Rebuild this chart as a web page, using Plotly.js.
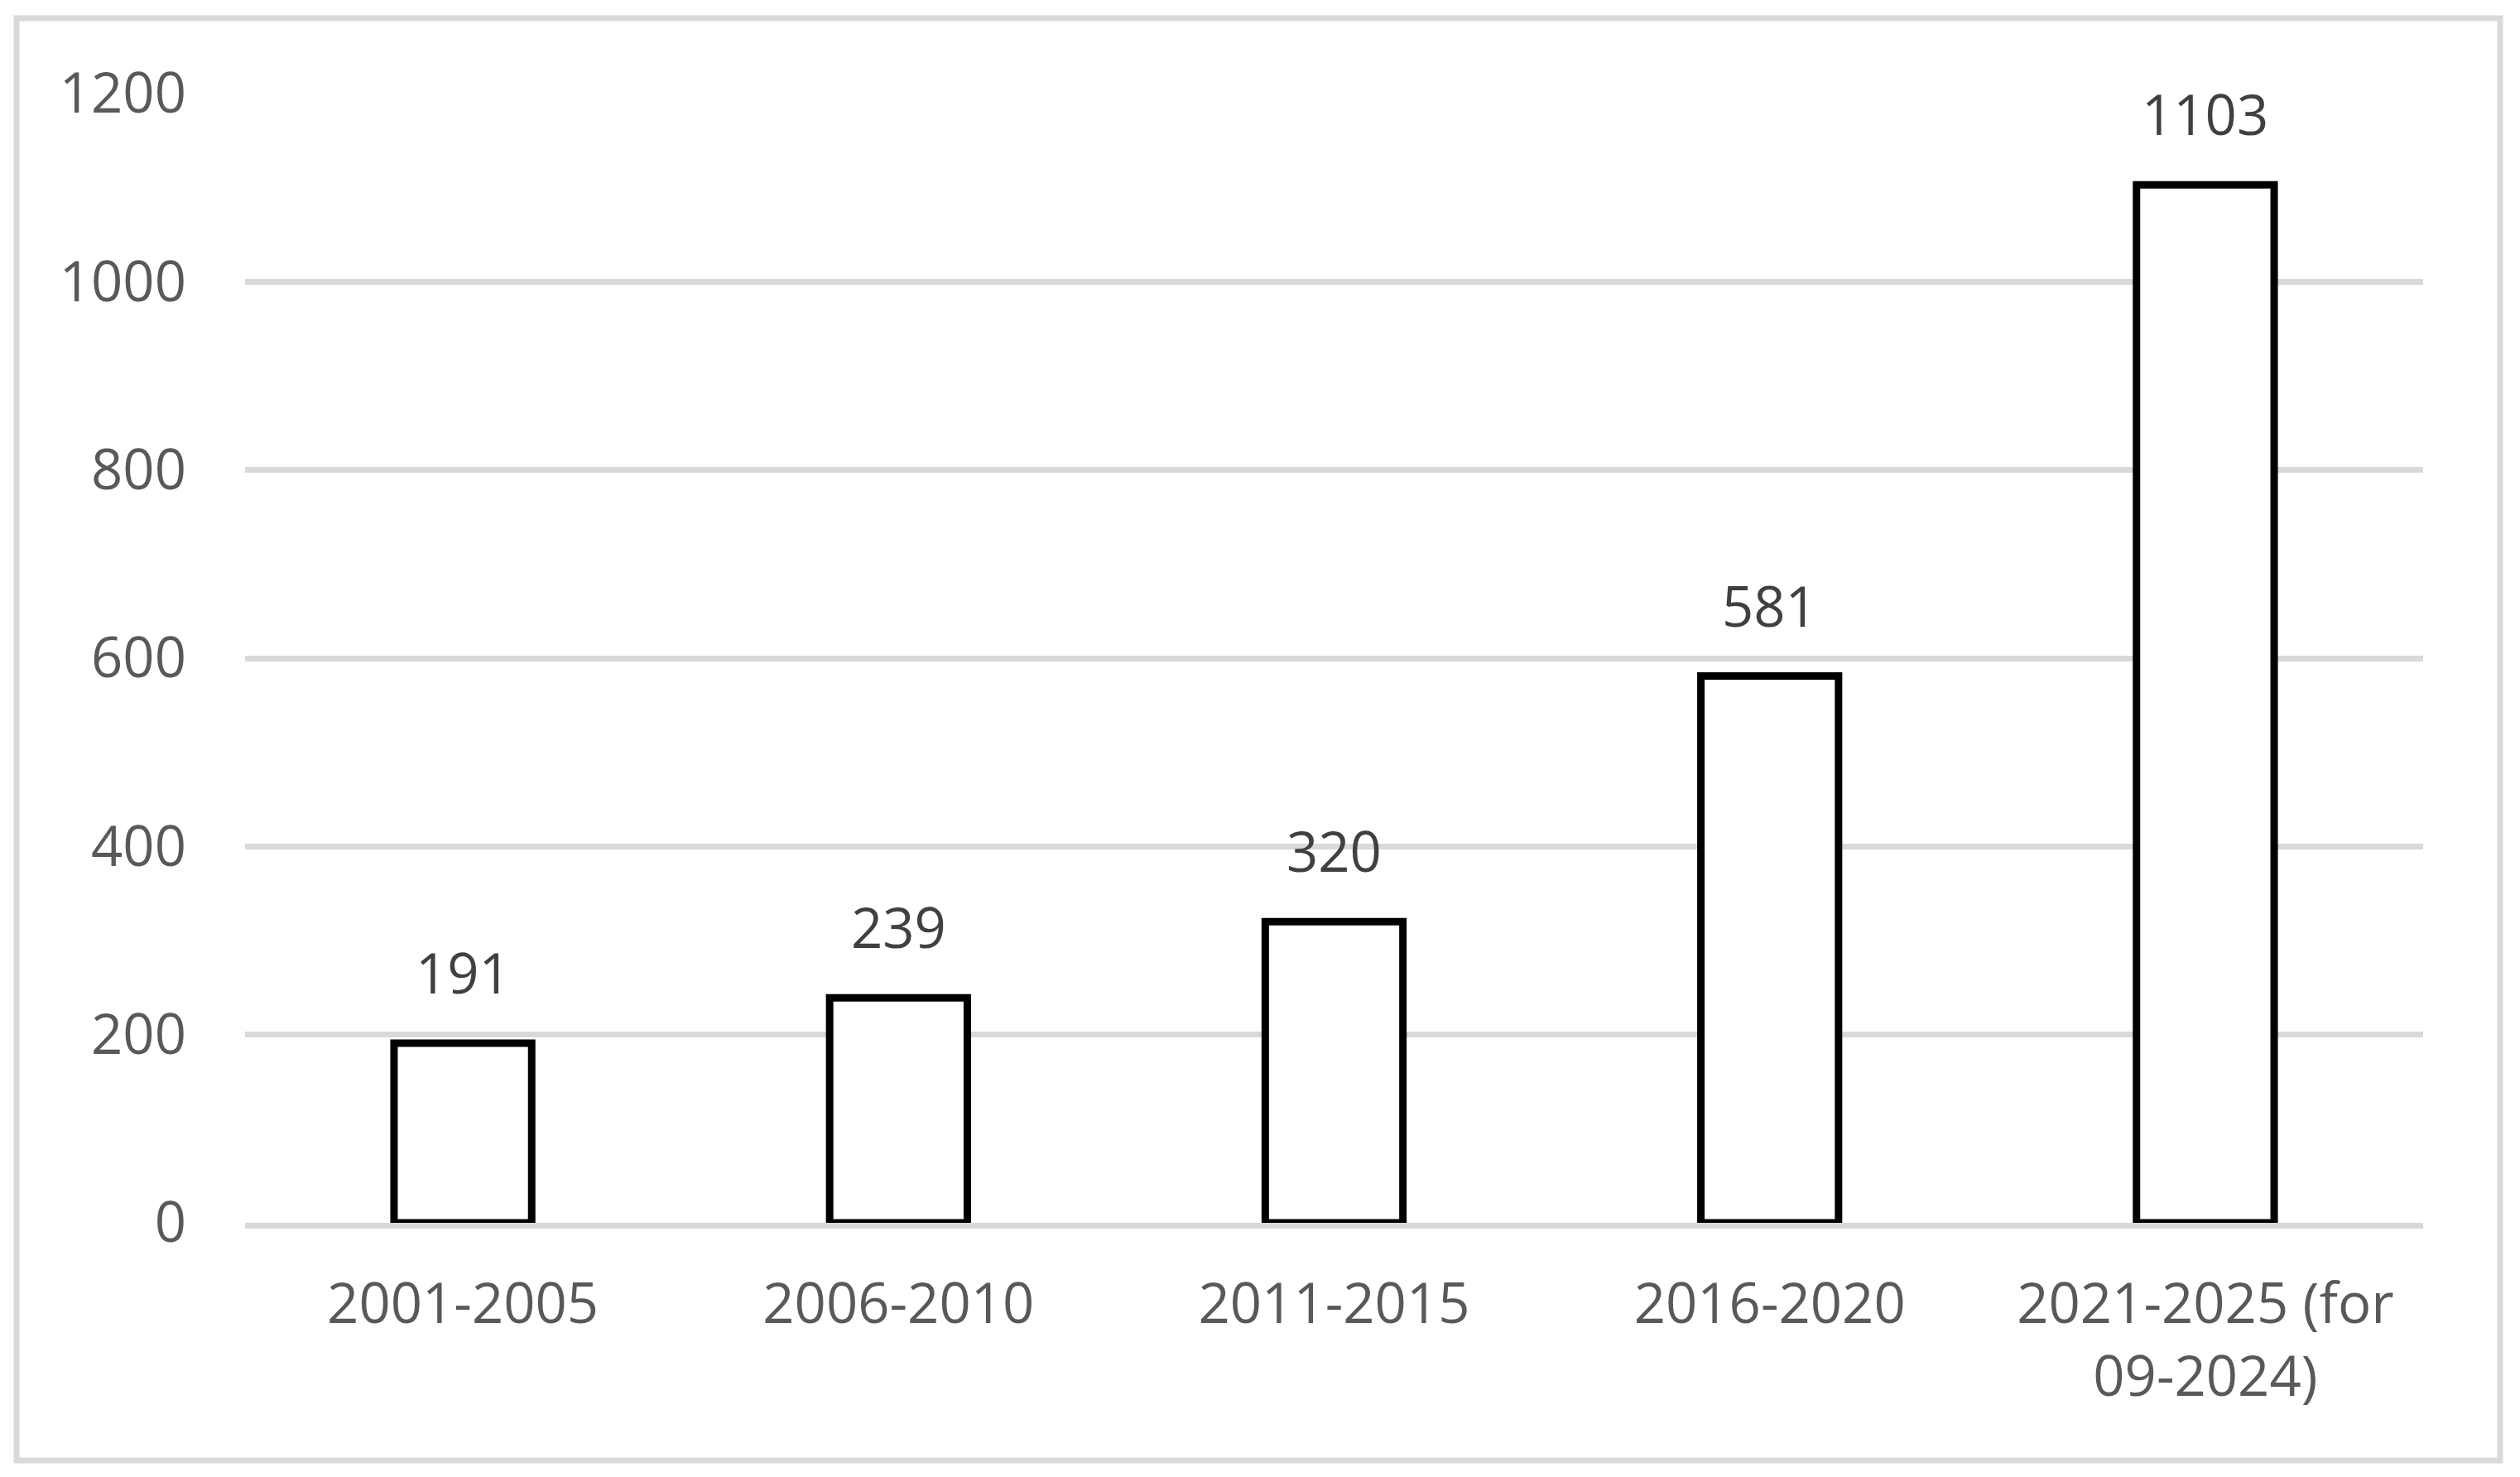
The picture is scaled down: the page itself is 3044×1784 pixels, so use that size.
<!DOCTYPE html>
<html>
<head>
<meta charset="utf-8">
<script src="https://cdn.plot.ly/plotly-3.0.1.min.js"></script>
<style>html,body{margin:0;padding:0;background:#fff;}#chart{width:3044px;height:1784px;}</style>
</head>
<body>
<div id="chart"></div>
<script>
const categories = ["2001-2005", "2006-2010", "2011-2015", "2016-2020", "2021-2025 (for<br>09-2024)"];
const counts = [191, 239, 320, 581, 1103];
const yTickValues = [0, 200, 400, 600, 800, 1000, 1200];

const FONT = "Open Sans, Noto Sans, sans-serif";
const L = 296, R = 2927, T = 113, B = 1477;
const W = 3044, H = 1784;
const pw = R - L, ph = B - T;
const px = v => (v - L) / pw;
const py = v => (B - v) / ph;

const trace = {
  type: "bar",
  x: categories,
  y: counts,
  marker: { color: "#ffffff", line: { color: "#000000", width: 9 } },
  hoverinfo: "none",
  cliponaxis: false
};

const annotations = categories.map((c, i) => ({
  x: c, y: counts[i], xref: "x", yref: "y",
  text: String(counts[i]),
  showarrow: false, yanchor: "bottom", yshift: 38,
  font: { family: FONT, size: 67, color: "#404040" }
}));

const layout = {
  width: W, height: H,
  margin: { l: L, r: W - R, t: T, b: H - B, pad: 0 },
  paper_bgcolor: "#ffffff",
  plot_bgcolor: "#ffffff",
  showlegend: false,
  bargap: 0.684,
  xaxis: {
    type: "category",
    tickfont: { family: FONT, size: 67, color: "#595959" },
    showgrid: false, zeroline: false,
    showline: true, linecolor: "#d9d9d9", linewidth: 7, layer: "above traces",
    ticks: "", ticklabelstandoff: 34
  },
  yaxis: {
    range: [0, 1200],
    tickvals: yTickValues,
    ticktext: yTickValues.map(String),
    tickfont: { family: FONT, size: 67, color: "#595959" },
    showgrid: true, gridcolor: "#d9d9d9", gridwidth: 7,
    zeroline: false, showline: false, ticks: "",
    ticklabelstandoff: 70
  },
  annotations: annotations,
  shapes: [{
    type: "rect", xref: "paper", yref: "paper",
    x0: px(20), x1: px(3020), y0: py(1764), y1: py(22),
    line: { color: "#d9d9d9", width: 7 }, fillcolor: "rgba(0,0,0,0)", layer: "below"
  }]
};

Plotly.newPlot("chart", [trace], layout, { staticPlot: true, displayModeBar: false });
</script>
</body>
</html>
